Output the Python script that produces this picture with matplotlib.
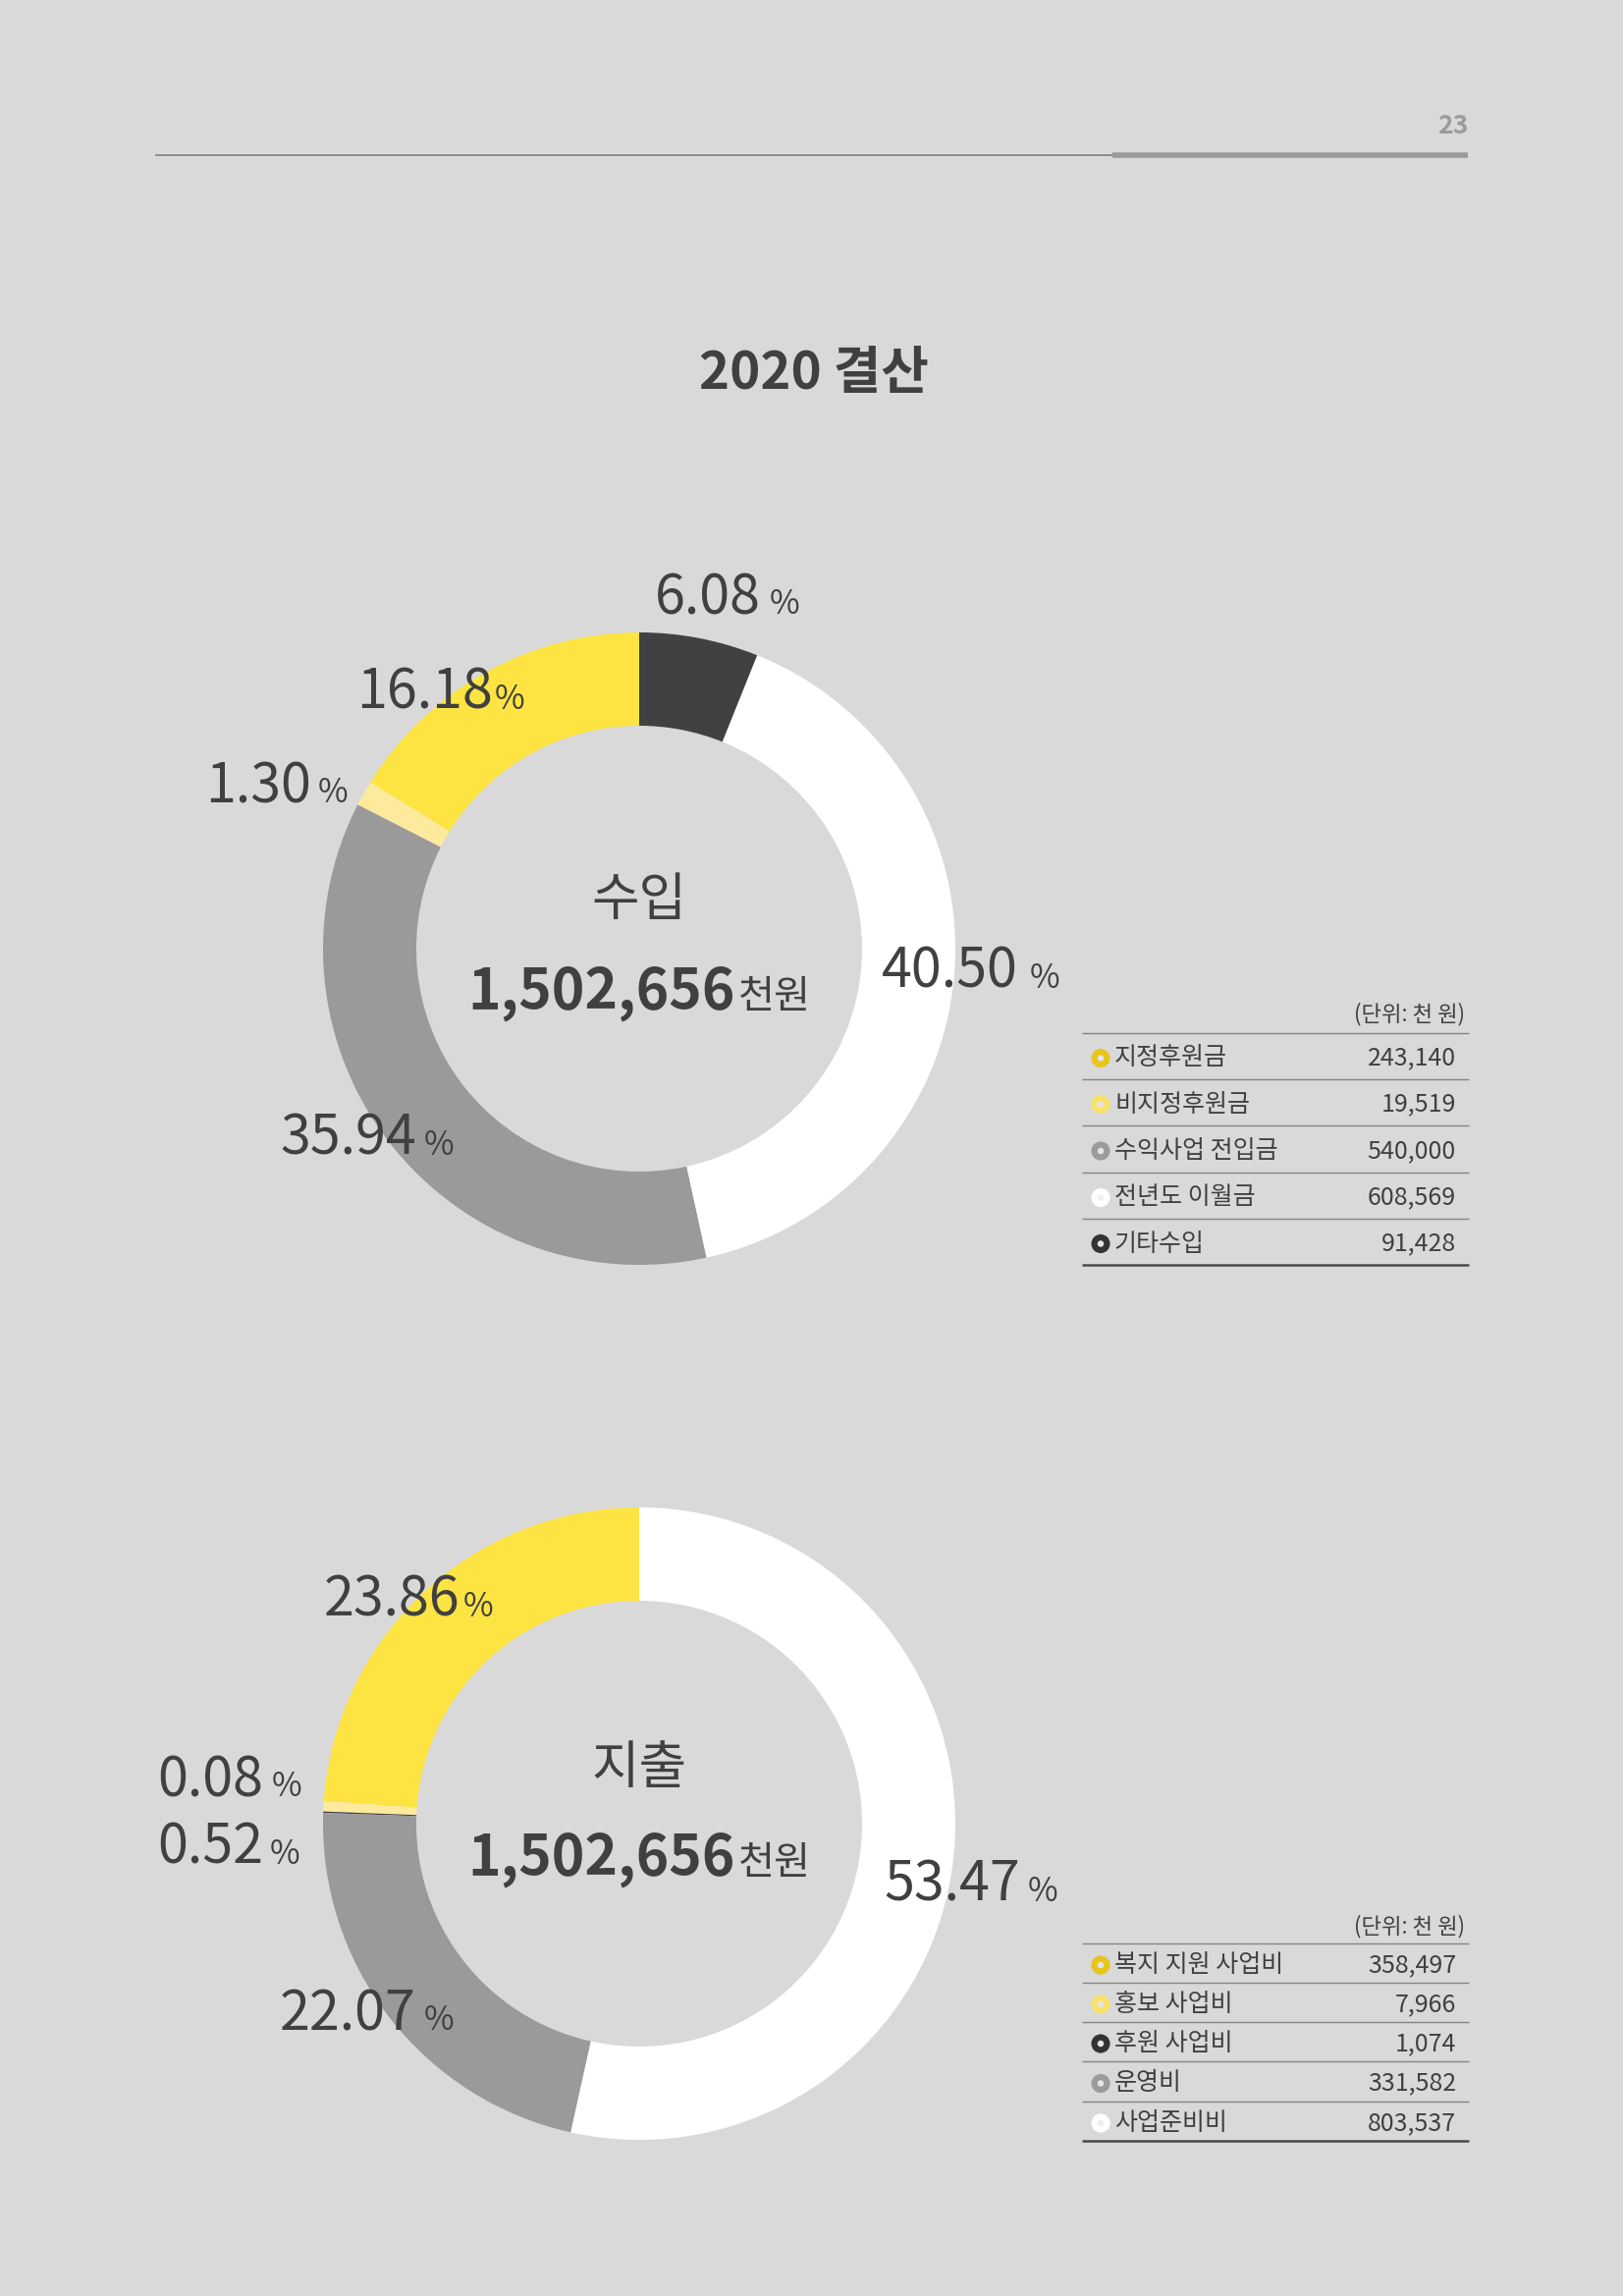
import matplotlib
matplotlib.use("Agg")
import matplotlib.pyplot as plt

plt.rcParams['font.family'] = ['Noto Sans CJK KR', 'DejaVu Sans']

W, H = 1653, 2338
BG = '#d9d9d9'
TXT = '#404040'

# data
income_labels = ['지정후원금', '비지정후원금', '수익사업 전입금', '전년도 이월금', '기타수입']
income_values = [243140, 19519, 540000, 608569, 91428]
income_pct = ['16.18', '1.30', '35.94', '40.50', '6.08']

expense_labels = ['복지 지원 사업비', '홍보 사업비', '후원 사업비', '운영비', '사업준비비']
expense_values = [358497, 7966, 1074, 331582, 803537]
expense_pct = ['23.86', '0.52', '0.08', '22.07', '53.47']

total_text = '1,502,656'

# colours
YEL, LYEL, GRAY, WHITE, DARK = '#fde443', '#feea9c', '#9a9a9b', '#ffffff', '#414143'
income_colors = [YEL, LYEL, GRAY, WHITE, DARK]
expense_colors = [YEL, LYEL, DARK, GRAY, WHITE]
ICON = {YEL: '#e8c41c', LYEL: '#f8e26c', GRAY: '#9b9b9b', WHITE: '#ffffff', DARK: '#333333'}

# layout (pixels from top-left): x, baseline y, gap before %
income_label_pos = [(363, 722, 2), (209, 817, 7), (285, 1176, 8), (898, 1006, 12), (667, 625, 9)]
expense_label_pos = [(330, 1646, 3), (160, 1898, 7), (160, 1829, 9), (285, 2067, 8), (900, 1936, 8)]

fig = plt.figure(figsize=(W / 100, H / 100), dpi=100, facecolor=BG)
ax = fig.add_axes([0, 0, 1, 1])
ax.set_facecolor(BG)


def fy(y):
    return H - y


def donut(values, colors, cx, cy):
    ax.pie(values, colors=colors, startangle=90, counterclock=True,
           radius=322, center=(cx, fy(cy)),
           wedgeprops=dict(width=95, edgecolor='none', linewidth=0))


donut(income_values, income_colors, 651, 966)
donut(expense_values, expense_colors, 651, 1857)

ax.set_xlim(0, W)
ax.set_ylim(0, H)
ax.set_aspect('equal')
ax.axis('off')

renderer = fig.canvas.get_renderer()


def pct_label(x, y, gap, num):
    t = ax.text(x, fy(y), num, fontsize=40, color=TXT, fontweight='light',
                ha='left', va='baseline')
    bb = t.get_window_extent(renderer).transformed(ax.transData.inverted())
    ax.text(bb.x1 + gap, fy(y), '%', fontsize=24, color=TXT, fontweight='light',
            ha='left', va='baseline')


for (x, y, g), p in zip(income_label_pos, income_pct):
    pct_label(x, y, g, p)
for (x, y, g), p in zip(expense_label_pos, expense_pct):
    pct_label(x, y, g, p)


def center_text(title, ty, by):
    ax.text(651, fy(ty), title, fontsize=38, color=TXT, fontweight='medium',
            ha='center', va='center')
    t1 = ax.text(0, fy(by), total_text, fontsize=41, color=TXT, fontweight='bold',
                 ha='left', va='baseline')
    t2 = ax.text(0, fy(by), '천원', fontsize=29, color=TXT,
                 ha='left', va='baseline')
    w1 = t1.get_window_extent(renderer).width
    w2 = t2.get_window_extent(renderer).width
    start = 651 - (w1 + 3 + w2) / 2
    t1.set_x(start)
    t2.set_x(start + w1 + 3)


center_text('수입', 917, 1027)
center_text('지출', 1800, 1909)

# header
ax.plot([158, 1133], [fy(158), fy(158)], color='#8c8c8c', lw=1.4, solid_capstyle='butt')
ax.plot([1133, 1495], [fy(158), fy(158)], color='#9a9a9a', lw=4, solid_capstyle='butt')
ax.text(1495, fy(128), '23', fontsize=19, color='#9a9a9a', fontweight='bold',
        ha='right', va='center')
ax.text(829, fy(380), '2020 결산', fontsize=38, color=TXT, fontweight='bold',
        ha='center', va='center')


def table(labels, values, colors, unit_y, lines_y):
    ax.text(1492, fy(unit_y), '(단위: 천 원)', fontsize=16, color=TXT,
            fontweight='light', ha='right', va='center')
    for i, ly in enumerate(lines_y):
        last = i == len(lines_y) - 1
        ax.plot([1102, 1496], [fy(ly), fy(ly)],
                color='#4a4a4a' if last else '#858585',
                lw=1.8 if last else 1.0, solid_capstyle='butt')
    for i, (lab, val, col) in enumerate(zip(labels, values, colors)):
        ry = (lines_y[i] + lines_y[i + 1]) / 2 + 2
        ax.scatter([1121], [fy(ry)], s=190, color=ICON[col], edgecolors='none', zorder=5)
        ax.scatter([1121], [fy(ry)], s=22, color='#e4e4e4' if col != WHITE else '#f0f0f0',
                   edgecolors='none', zorder=6)
        ax.text(1135, fy(ry), lab, fontsize=18, color=TXT, fontweight='light',
                ha='left', va='center')
        ax.text(1483, fy(ry), f'{val:,}', fontsize=18, color=TXT, fontweight='light',
                ha='right', va='center')


table(income_labels, income_values, income_colors, 1033,
      [1052, 1099, 1146, 1194, 1241, 1288])
table(expense_labels, expense_values, expense_colors, 1962,
      [1979, 2019, 2059, 2099, 2140, 2180])

fig.savefig('out.png', dpi=100, facecolor=BG)
